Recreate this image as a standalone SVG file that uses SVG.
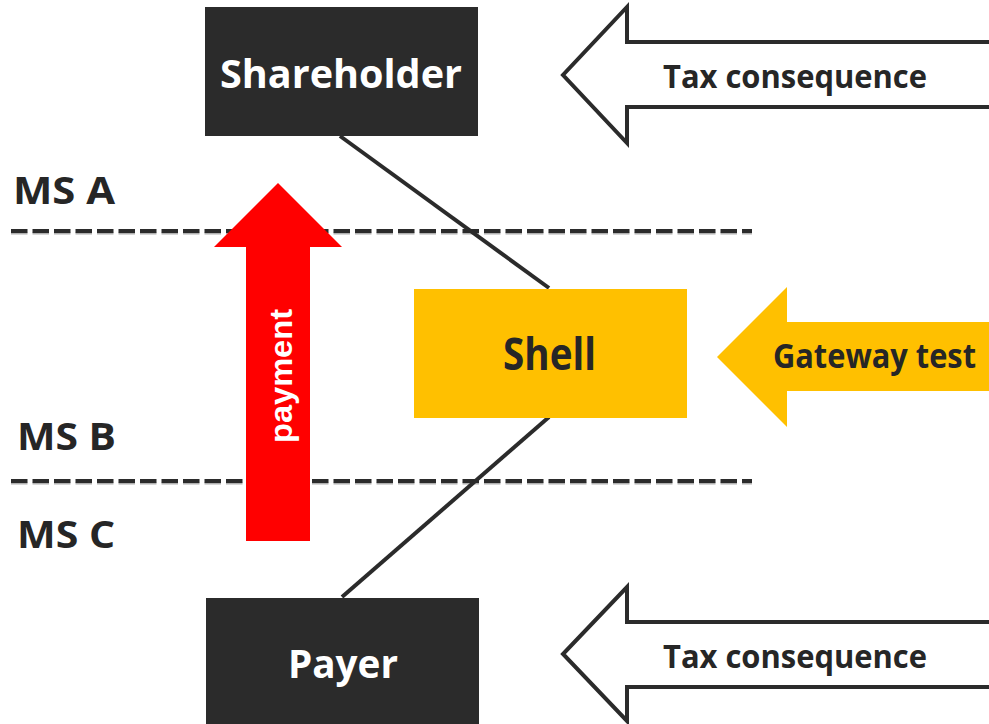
<svg xmlns="http://www.w3.org/2000/svg" width="989" height="724" viewBox="0 0 989 724">
<style>
.lbl{font-family:"Open Sans","Liberation Sans",sans-serif;font-weight:700;fill:#262626}
.wht{font-family:"Open Sans","Liberation Sans",sans-serif;font-weight:700;fill:#ffffff}
.dash{stroke:#2b2b2b;stroke-width:4;stroke-dasharray:16.5 5;fill:none}
.dashsh{stroke:#b0b0b0;stroke-width:2;stroke-dasharray:16.5 5;fill:none}
.conn{stroke:#2b2b2b;stroke-width:4;fill:none}
.hollow{fill:#ffffff;stroke:#2b2b2b;stroke-width:4;stroke-linejoin:miter}
.box{fill:#2b2b2b}
</style>
<rect width="989" height="724" fill="#ffffff"/>
<g id="borders">
<line class="dashsh" x1="11" y1="233.5" x2="752" y2="233.5"/>
<line class="dash" x1="11" y1="231" x2="752" y2="231"/>
<line class="dashsh" x1="11" y1="483.5" x2="752" y2="483.5"/>
<line class="dash" x1="11" y1="481" x2="752" y2="481"/>
<text class="lbl" x="13" y="204" font-size="38" textLength="102" lengthAdjust="spacingAndGlyphs">MS A</text>
<text class="lbl" x="17" y="450" font-size="38" textLength="99" lengthAdjust="spacingAndGlyphs">MS B</text>
<text class="lbl" x="17" y="548" font-size="38" textLength="98" lengthAdjust="spacingAndGlyphs">MS C</text>
</g>
<g id="connectors">
<line class="conn" x1="340" y1="136" x2="549" y2="288"/>
<line class="conn" x1="549" y1="417" x2="342" y2="597"/>
</g>
<g id="payment">
<polygon fill="#ff0000" points="246,541 246,247 214,247 278,183 342,247 310,247 310,541"/>
<text class="wht" font-family="Liberation Sans, Arial, sans-serif" style="font-family:'Liberation Sans',Arial,sans-serif" font-size="32" text-anchor="middle" transform="translate(292,376) rotate(-90)" textLength="134" lengthAdjust="spacingAndGlyphs">payment</text>
</g>
<g id="shareholder">
<rect class="box" x="205" y="7" width="273" height="129"/>
<text class="wht" x="341" y="88" font-size="39" text-anchor="middle" textLength="242" lengthAdjust="spacingAndGlyphs">Shareholder</text>
</g>
<g id="shell">
<rect fill="#ffc000" x="414" y="289" width="273" height="129"/>
<text class="lbl" x="549.5" y="370" font-size="44" text-anchor="middle" textLength="93" lengthAdjust="spacingAndGlyphs">Shell</text>
</g>
<g id="payer">
<rect class="box" x="206" y="598" width="273" height="130"/>
<text class="wht" x="343" y="678" font-size="40" text-anchor="middle" textLength="110" lengthAdjust="spacingAndGlyphs">Payer</text>
</g>
<g id="tax-top">
<polygon class="hollow" points="995,42 627,42 627,7 563,75 627,143 627,107 995,107"/>
<text class="lbl" x="663" y="88" font-size="32" textLength="264" lengthAdjust="spacingAndGlyphs">Tax consequence</text>
</g>
<g id="gateway">
<polygon fill="#ffc000" points="995,322 787,322 787,287 717,357 787,427 787,391 995,391"/>
<text class="lbl" x="773" y="368" font-size="34" textLength="203" lengthAdjust="spacingAndGlyphs">Gateway test</text>
</g>
<g id="tax-bottom">
<polygon class="hollow" points="995,622 627,622 627,587 563,654 627,721 627,687 995,687"/>
<text class="lbl" x="663" y="668" font-size="32" textLength="264" lengthAdjust="spacingAndGlyphs">Tax consequence</text>
</g>
</svg>
